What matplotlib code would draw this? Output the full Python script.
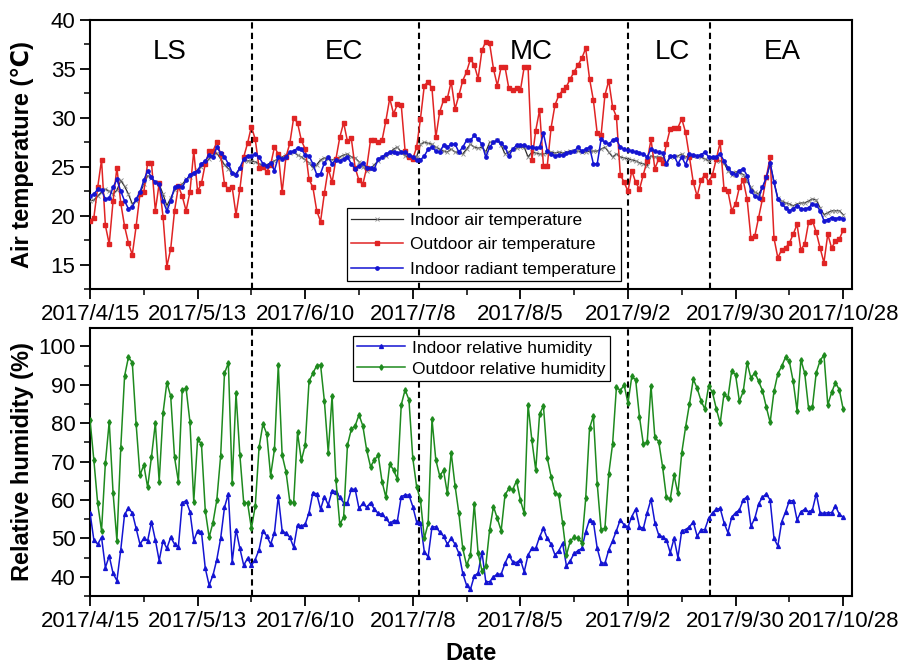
"""Indoor / outdoor air temperature and relative humidity, 2017/4/15 - 2017/10/28,
split into the five periods LS, EC, MC, LC, EA."""

import matplotlib
matplotlib.use("Agg")
import matplotlib.pyplot as plt
import matplotlib.dates as mdates
import matplotlib.ticker as mticker
import pandas as pd

START = "2017-04-15"

# daily means
indoor_air_temp = [
    21.5, 21.6, 22.0, 22.4, 22.7, 22.5, 22.2, 22.6, 23.6, 23.0,
    22.2, 21.2, 21.5, 22.3, 23.2, 24.1, 23.8, 23.4, 23.2, 22.2,
    21.0, 21.8, 22.6, 22.9, 23.2, 23.7, 24.0, 24.3, 24.7, 25.0,
    25.3, 25.8, 26.2, 26.4, 25.8, 25.2, 24.8, 24.3, 24.3, 24.8,
    25.6, 25.6, 25.6, 25.5, 25.3, 25.0, 25.2, 25.4, 25.6, 25.8,
    26.0, 26.2, 26.4, 26.5, 26.2, 26.0, 25.7, 25.4, 24.9, 25.2,
    25.7, 25.9, 25.8, 25.7, 25.8, 26.0, 26.2, 26.3, 26.0, 25.9,
    25.5, 25.0, 24.6, 24.8, 25.2, 25.6, 26.0, 26.1, 26.4, 26.8,
    27.0, 26.5, 26.1, 26.0, 26.0, 26.0, 27.3, 27.5, 27.4, 27.3,
    27.0, 26.8, 26.6, 26.5, 26.8, 26.5, 26.5, 26.3, 26.8, 27.3,
    27.0, 26.9, 27.0, 26.5, 27.5, 27.5, 27.7, 27.2, 26.3, 26.5,
    26.8, 26.9, 27.0, 27.0, 26.0, 26.5, 26.4, 26.3, 26.3, 26.4,
    26.5, 26.4, 26.5, 26.4, 26.5, 26.6, 26.6, 26.6, 26.5, 26.5,
    26.6, 26.6, 26.6, 26.8, 27.0, 26.5, 26.0, 26.3, 26.0, 25.9,
    25.8, 25.7, 25.6, 25.4, 25.3, 25.1, 26.1, 26.0, 26.0, 25.9,
    25.3, 26.0, 26.0, 26.1, 26.3, 26.0, 26.1, 26.1, 26.1, 26.0,
    25.8, 25.6, 25.9, 25.6, 25.6, 25.4, 24.6, 24.2, 24.5, 24.4,
    24.2, 23.5, 22.9, 22.4, 22.2, 22.9, 23.8, 25.3, 23.5, 21.8,
    21.5, 21.3, 21.2, 21.0, 21.2, 21.3, 21.3, 21.5, 21.7, 21.6,
    20.8, 20.1, 20.3, 20.5, 20.5, 20.5, 20.1,
]
outdoor_air_temp = [
    19.5, 19.8, 22.9, 25.7, 19.0, 17.1, 21.5, 24.9, 21.3, 18.9,
    17.2, 16.0, 18.9, 22.2, 22.4, 25.4, 25.4, 20.5, 23.3, 19.9,
    14.8, 16.6, 20.5, 23.0, 22.0, 20.5, 22.4, 26.6, 22.5, 23.3,
    25.3, 26.6, 26.6, 27.5, 26.3, 23.2, 22.7, 22.9, 20.1, 22.7,
    26.0, 27.4, 29.1, 27.8, 24.9, 25.0, 24.5, 25.2, 27.0, 26.3,
    22.4, 26.0, 27.4, 30.0, 29.5, 27.7, 26.8, 23.7, 22.9, 20.5,
    19.4, 22.3, 24.8, 23.4, 25.8, 28.0, 29.5, 27.6, 27.9, 24.9,
    23.6, 23.2, 24.9, 27.7, 27.7, 27.5, 27.7, 29.7, 32.0, 30.4,
    31.4, 31.3, 26.6, 26.0, 25.8, 27.0, 29.9, 33.3, 33.7, 33.0,
    28.0, 30.6, 31.8, 32.0, 33.7, 30.9, 32.3, 33.8, 34.7, 36.0,
    35.4, 34.0, 36.9, 37.8, 37.6, 35.0, 33.3, 35.2, 35.2, 33.0,
    32.8, 33.0, 32.8, 35.2, 35.2, 25.7, 28.7, 30.8, 25.1, 25.1,
    29.0, 31.3, 32.3, 32.8, 33.2, 34.0, 34.7, 35.4, 36.1, 37.1,
    34.0, 31.8, 28.4, 28.2, 32.3, 33.8, 31.1, 30.1, 24.2, 23.4,
    22.5, 24.6, 23.4, 22.7, 24.2, 25.6, 27.8, 24.8, 25.8, 25.4,
    27.3, 28.9, 29.0, 29.0, 29.9, 28.5, 26.0, 23.4, 22.0, 23.6,
    24.2, 23.4, 24.2, 25.8, 27.5, 22.7, 22.5, 20.5, 21.2, 22.9,
    23.6, 21.7, 17.7, 17.9, 19.8, 21.7, 23.9, 26.0, 17.7, 15.7,
    16.5, 16.7, 17.2, 18.1, 19.1, 16.5, 17.1, 19.3, 19.5, 18.3,
    16.7, 15.2, 18.1, 16.7, 17.4, 17.6, 18.5,
]
indoor_radiant_temp = [
    22.0, 22.2, 22.7, 22.6, 21.7, 21.8, 22.9, 23.7, 22.5, 21.5,
    20.7, 20.9, 21.7, 22.4, 23.6, 24.6, 23.9, 23.4, 23.2, 21.5,
    20.5, 21.5, 22.9, 23.0, 22.9, 23.6, 24.2, 24.4, 24.6, 25.3,
    25.6, 26.2, 26.0, 27.0, 26.4, 26.0, 25.3, 24.4, 24.2, 24.9,
    25.8, 26.1, 26.1, 26.3, 26.0, 25.3, 25.1, 25.4, 24.6, 26.0,
    25.8, 26.0, 26.5, 26.6, 26.9, 26.8, 26.2, 26.1, 25.3, 24.2,
    24.3, 25.4, 26.0, 25.3, 25.7, 25.6, 25.8, 26.0, 25.3, 24.8,
    25.1, 25.4, 24.9, 24.9, 24.8, 25.8, 26.0, 26.3, 26.5, 26.5,
    26.4, 26.5, 26.5, 26.2, 26.0, 25.7, 25.7, 26.1, 26.8, 27.0,
    26.6, 26.5, 27.2, 27.0, 27.3, 27.3, 26.5, 27.0, 27.7, 27.7,
    28.2, 27.8, 27.3, 26.0, 27.0, 27.5, 27.7, 27.4, 27.0, 26.1,
    26.8, 27.2, 27.2, 27.2, 27.0, 27.0, 26.9, 27.0, 28.4, 26.6,
    26.3, 26.1, 26.2, 26.2, 26.4, 26.5, 26.6, 27.0, 26.6, 26.8,
    27.0, 25.3, 25.3, 27.8, 27.5, 27.3, 27.7, 27.8, 27.0, 26.8,
    26.7, 26.6, 26.5, 26.4, 26.3, 26.0, 26.8, 26.6, 26.5, 26.4,
    25.3, 26.1, 26.1, 25.3, 26.0, 25.2, 26.3, 26.2, 26.1, 26.2,
    26.5, 26.0, 26.0, 26.0, 26.3, 25.6, 24.9, 24.4, 24.2, 24.6,
    24.8, 24.1, 22.5, 22.0, 21.8, 22.9, 23.9, 25.4, 23.4, 21.7,
    21.2, 20.8, 20.5, 20.7, 21.0, 20.7, 20.7, 20.8, 21.2, 21.1,
    20.5, 19.5, 19.6, 19.8, 19.7, 19.8, 19.7,
]
indoor_rh = [
    56.7, 49.6, 48.5, 50.3, 42.4, 45.4, 40.9, 39.0, 47.0, 56.3,
    57.8, 56.7, 52.6, 48.5, 50.0, 49.4, 54.3, 49.6, 44.2, 49.4,
    47.4, 50.3, 48.5, 47.8, 59.3, 59.8, 57.0, 49.4, 52.0, 51.7,
    42.2, 37.8, 40.4, 44.5, 50.0, 58.1, 61.6, 43.9, 52.3, 47.4,
    43.0, 44.8, 43.0, 44.5, 47.1, 52.0, 50.6, 48.5, 51.5, 61.0,
    52.0, 51.3, 50.3, 47.7, 53.5, 53.2, 53.7, 56.7, 61.9, 61.6,
    57.6, 60.9, 58.7, 62.4, 62.2, 60.7, 59.3, 59.3, 62.8, 62.8,
    57.8, 59.1, 58.1, 59.3, 57.6, 56.5, 56.3, 55.2, 53.9, 54.6,
    54.6, 60.9, 61.3, 61.3, 58.3, 54.3, 54.1, 46.5, 45.2, 53.0,
    53.0, 51.7, 50.6, 48.5, 50.0, 48.5, 46.1, 40.9, 37.8, 36.7,
    40.2, 41.0, 46.5, 38.7, 38.7, 40.0, 40.7, 40.7, 43.5, 45.7,
    43.9, 43.7, 44.5, 41.3, 45.7, 47.4, 47.4, 50.4, 52.6, 50.0,
    48.5, 45.7, 46.8, 48.7, 42.8, 44.2, 46.1, 46.8, 47.4, 51.7,
    54.9, 54.3, 47.4, 43.7, 43.5, 47.0, 49.4, 52.0, 54.9, 53.5,
    53.0, 55.7, 57.6, 53.0, 52.6, 56.7, 60.2, 54.1, 50.9, 50.4,
    49.6, 46.3, 50.0, 45.0, 52.0, 52.3, 53.0, 54.3, 50.6, 52.2,
    52.3, 55.2, 56.7, 57.6, 57.8, 54.1, 51.5, 55.5, 56.7, 57.4,
    60.0, 60.9, 53.2, 55.2, 59.0, 60.7, 61.6, 60.0, 50.0, 48.0,
    54.3, 56.9, 59.8, 59.8, 54.8, 56.9, 57.6, 56.9, 57.4, 61.6,
    56.7, 56.5, 56.7, 56.7, 58.4, 56.3, 55.5,
]
outdoor_rh = [
    80.9, 70.4, 59.1, 52.0, 69.6, 80.4, 61.9, 49.4, 73.5, 92.3,
    97.2, 95.8, 79.8, 66.5, 69.1, 63.3, 71.3, 80.0, 64.8, 82.6,
    90.6, 87.0, 71.1, 64.8, 88.7, 89.1, 80.4, 59.6, 75.8, 74.6,
    57.2, 50.3, 54.1, 60.0, 71.5, 93.0, 95.7, 64.5, 87.8, 71.7,
    59.3, 59.3, 52.6, 58.4, 73.7, 79.8, 77.2, 66.3, 73.2, 95.2,
    71.7, 67.4, 59.6, 59.3, 77.6, 70.3, 74.3, 90.9, 93.0, 95.0,
    95.2, 85.7, 72.3, 87.1, 65.2, 53.7, 55.5, 74.3, 78.4, 79.3,
    82.2, 79.3, 73.0, 68.7, 70.4, 71.7, 64.8, 60.7, 69.4, 67.8,
    65.4, 84.8, 88.7, 86.1, 70.9, 63.5, 60.0, 50.0, 53.9, 81.0,
    70.4, 66.3, 67.7, 61.7, 72.3, 63.7, 56.5, 47.4, 43.0, 45.7,
    59.0, 46.1, 41.6, 42.8, 52.3, 58.3, 55.2, 52.0, 61.3, 63.0,
    62.7, 65.0, 60.0, 56.5, 84.8, 75.5, 67.8, 82.4, 84.5, 70.9,
    66.1, 61.9, 61.3, 53.9, 45.7, 49.4, 50.3, 50.0, 48.9, 60.4,
    78.7, 81.9, 64.2, 52.3, 52.6, 66.8, 74.6, 89.4, 88.5, 90.0,
    85.2, 92.2, 91.3, 81.6, 74.6, 75.0, 89.7, 76.3, 75.2, 68.7,
    60.7, 60.2, 66.5, 61.7, 72.3, 79.0, 85.0, 91.5, 89.1, 85.9,
    83.7, 89.7, 88.0, 83.7, 80.0, 87.7, 86.5, 93.7, 92.6, 85.7,
    88.3, 95.8, 91.7, 93.2, 90.9, 88.5, 84.2, 80.2, 88.3, 92.9,
    94.8, 97.2, 96.1, 90.9, 83.3, 96.5, 93.0, 83.9, 84.2, 93.2,
    96.3, 97.8, 84.8, 88.0, 90.6, 88.7, 83.7,
]

period_names = ["LS", "EC", "MC", "LC", "EA"]
period_bounds = ["2017-05-27 02:00", "2017-07-09 17:00",
                 "2017-09-02 03:00", "2017-09-23 10:00"]
# label centres, as fraction of the axes width
period_label_x = [0.104, 0.333, 0.579, 0.764, 0.908]

RED = "#e02424"
BLUE = "#1414d2"
GREEN = "#1e8a1e"
DARK = "#2a2a2a"

for s in (indoor_air_temp, outdoor_air_temp, indoor_radiant_temp, indoor_rh, outdoor_rh):
    assert len(s) == 197, len(s)

plt.rcParams["font.family"] = ["Liberation Sans", "DejaVu Sans"]
plt.rcParams["font.size"] = 16

dates = pd.date_range(START, periods=len(outdoor_air_temp), freq="D")
major = dates[::28]
minor = dates[14::28]


def _fmt_date(x, pos=None):
    d = mdates.num2date(x)
    return f"{d.year}/{d.month}/{d.day}"


def _style_axis(ax):
    ax.set_xlim(dates[0], dates[0] + pd.Timedelta(days=198.3))
    ax.set_xticks(major)
    ax.set_xticks(minor, minor=True)
    ax.xaxis.set_major_formatter(mticker.FuncFormatter(_fmt_date))
    ax.tick_params(which="major", direction="out", length=7, width=1.3,
                   labelsize=16, top=False, right=False)
    ax.tick_params(which="minor", direction="out", length=4, width=1.1,
                   top=False, right=False)
    for sp in ax.spines.values():
        sp.set_linewidth(1.5)
    for b in period_bounds:
        ax.axvline(pd.Timestamp(b), color="black", linestyle=(0, (3, 2)),
                   linewidth=1.5, zorder=1)


def _legend(ax, **kw):
    leg = ax.legend(fontsize=12.5, frameon=True, fancybox=False,
                    edgecolor="black", framealpha=1, borderpad=0.25,
                    handletextpad=0.4, borderaxespad=0, **kw)
    leg.get_frame().set_linewidth(0.9)
    return leg


fig = plt.figure(figsize=(9.01, 6.71), dpi=100)
ax1 = fig.add_axes([0.0999, 0.5693, 0.8457, 0.4009])
ax2 = fig.add_axes([0.0999, 0.1118, 0.8457, 0.3994])

# ---- top: temperatures ----
_style_axis(ax1)
ax1.plot(dates, indoor_air_temp, color=DARK, linewidth=0.9, marker="x",
         markersize=2.5, markeredgecolor="#8a8a8a", markeredgewidth=0.6,
         label="Indoor air temperature", zorder=3)
ax1.plot(dates, outdoor_air_temp, color=RED, linewidth=1.1, marker="s",
         markersize=2.4, label="Outdoor air temperature", zorder=3)
ax1.plot(dates, indoor_radiant_temp, color=BLUE, linewidth=1.1, marker="o",
         markersize=2.4, label="Indoor radiant temperature", zorder=4)
ax1.set_ylim(12.5, 40)
ax1.yaxis.set_major_locator(mticker.MultipleLocator(5))
ax1.yaxis.set_minor_locator(mticker.MultipleLocator(2.5))
ax1.set_ylabel("Air temperature (\u2103)", fontsize=17, fontweight="bold")
ax1.yaxis.set_label_coords(-0.073, 0.5)
for name, xf in zip(period_names, period_label_x):
    ax1.text(xf, 0.881, name, transform=ax1.transAxes, ha="center",
             va="center", fontsize=20)
_legend(ax1, loc="lower left", bbox_to_anchor=(0.337, 0.03),
        handlelength=3.0, labelspacing=0.53)

# ---- bottom: relative humidity ----
_style_axis(ax2)
ax2.plot(dates, indoor_rh, color=BLUE, linewidth=1.1, marker="^",
         markersize=2.8, label="Indoor relative humidity", zorder=3)
ax2.plot(dates, outdoor_rh, color=GREEN, linewidth=1.1, marker="d",
         markersize=2.8, label="Outdoor relative humidity", zorder=3)
ax2.set_ylim(35, 104.8)
ax2.yaxis.set_major_locator(mticker.MultipleLocator(10))
ax2.yaxis.set_minor_locator(mticker.MultipleLocator(5))
ax2.set_yticks(range(40, 101, 10))
ax2.set_ylabel("Relative humidity (%)", fontsize=17, fontweight="bold")
ax2.yaxis.set_label_coords(-0.073, 0.5)
ax2.set_xlabel("Date", fontsize=17, fontweight="bold")
ax2.xaxis.set_label_coords(0.5, -0.17)
_legend(ax2, loc="upper left", bbox_to_anchor=(0.345, 0.97),
        handlelength=2.75, labelspacing=0.34)

fig.savefig("out.png", dpi=100)
